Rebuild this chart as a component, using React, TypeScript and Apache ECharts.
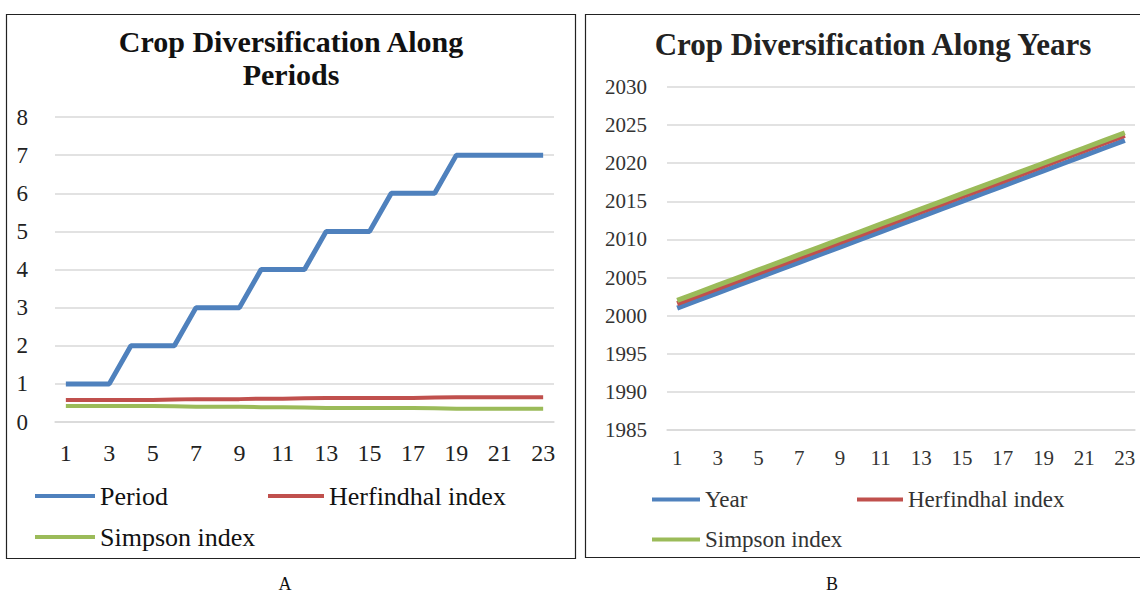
import React, { useEffect, useRef } from "react";
import * as echarts from "echarts";

const categories = ["1","2","3","4","5","6","7","8","9","10","11","12","13","14","15","16","17","18","19","20","21","22","23"];
const periodValues = [1,1,1,2,2,2,3,3,3,4,4,4,5,5,5,6,6,6,7,7,7,7,7];
const herfindahlValues = [0.58,0.58,0.58,0.58,0.58,0.59,0.6,0.6,0.6,0.61,0.61,0.62,0.63,0.63,0.63,0.63,0.63,0.64,0.65,0.65,0.65,0.65,0.65];
const simpsonValues = [0.42,0.42,0.42,0.42,0.42,0.41,0.4,0.4,0.4,0.39,0.39,0.38,0.37,0.37,0.37,0.37,0.37,0.36,0.35,0.35,0.35,0.35,0.35];
const yearValues = [2001,2002,2003,2004,2005,2006,2007,2008,2009,2010,2011,2012,2013,2014,2015,2016,2017,2018,2019,2020,2021,2022,2023];

const titleA = "Crop Diversification Along\nPeriods";
const titleB = "Crop Diversification Along Years";

const SERIF = "'Liberation Serif', 'Times New Roman', serif";
const BLUE = "#4F81BD";
const RED = "#C0504D";
const GREEN = "#9BBB59";
const GRID = "#d9d9d9";

export default function App() {
  const ref = useRef<HTMLDivElement>(null);
  useEffect(() => {
    document.body.style.margin = "0";
    if (!ref.current) return;
    const chart = echarts.init(ref.current, null, { renderer: "svg" });
    const legendBase = {
      icon: "rect",
      itemWidth: 60,
      itemHeight: 4,
      orient: "horizontal",
      padding: 0,
      selectedMode: false,
    };
    const option: any = {
      animation: false,
      backgroundColor: "#fff",
      title: [
        {
          text: titleA,
          left: 291,
          top: 25,
          padding: 0,
          textAlign: "center",
          textStyle: { fontFamily: SERIF, fontSize: 30, fontWeight: "bold", color: "#111", lineHeight: 33 },
        },
        {
          text: titleB,
          left: 873,
          top: 28,
          padding: 0,
          textAlign: "center",
          textStyle: { fontFamily: SERIF, fontSize: 31, fontWeight: "bold", color: "#222", lineHeight: 32 },
        },
        {
          text: "A",
          left: 285,
          top: 575,
          padding: 0,
          textAlign: "center",
          textStyle: { fontFamily: SERIF, fontSize: 18, fontWeight: "normal", color: "#111", lineHeight: 18 },
        },
        {
          text: "B",
          left: 832,
          top: 575,
          padding: 0,
          textAlign: "center",
          textStyle: { fontFamily: SERIF, fontSize: 18, fontWeight: "normal", color: "#111", lineHeight: 18 },
        },
      ],
      legend: [
        { ...legendBase, data: ["Period"], left: 35, top: 483, textStyle: { fontFamily: SERIF, fontSize: 26, color: "#111" } },
        { ...legendBase, itemWidth: 56, data: ["Herfindhal index"], left: 268, top: 483, textStyle: { fontFamily: SERIF, fontSize: 26, color: "#111" } },
        { ...legendBase, data: ["Simpson index"], left: 35, top: 524, textStyle: { fontFamily: SERIF, fontSize: 26, color: "#111" } },
        { ...legendBase, itemWidth: 48, data: ["Year"], left: 652, top: 488, textStyle: { fontFamily: SERIF, fontSize: 23, color: "#333" } },
        { ...legendBase, itemWidth: 46, data: ["Herfindhal index"], left: 857, top: 488, textStyle: { fontFamily: SERIF, fontSize: 23, color: "#333" } },
        { ...legendBase, itemWidth: 48, data: ["Simpson index"], left: 652, top: 528, textStyle: { fontFamily: SERIF, fontSize: 23, color: "#333" } },
      ],
      grid: [
        { left: 55, top: 117, width: 499, height: 305 },
        { left: 667, top: 87, width: 468, height: 343 },
      ],
      xAxis: [
        {
          type: "category",
          gridIndex: 0,
          data: categories,
          boundaryGap: true,
          axisLine: { lineStyle: { color: GRID, width: 1.5 } },
          axisTick: { show: false },
          axisLabel: { interval: 1, margin: 19, fontFamily: SERIF, fontSize: 24, color: "#222" },
        },
        {
          type: "category",
          gridIndex: 1,
          data: categories,
          boundaryGap: true,
          axisLine: { lineStyle: { color: GRID, width: 1.5 } },
          axisTick: { show: false },
          axisLabel: { interval: 1, margin: 17, fontFamily: SERIF, fontSize: 21, color: "#333" },
        },
      ],
      yAxis: [
        {
          type: "value",
          gridIndex: 0,
          min: 0,
          max: 8,
          interval: 1,
          axisLine: { show: false },
          axisTick: { show: false },
          splitLine: { lineStyle: { color: GRID, width: 1.5 } },
          axisLabel: { margin: 27, fontFamily: SERIF, fontSize: 23, color: "#222" },
        },
        {
          type: "value",
          gridIndex: 1,
          min: 1985,
          max: 2030,
          interval: 5,
          axisLine: { show: false },
          axisTick: { show: false },
          splitLine: { lineStyle: { color: GRID, width: 1.5 } },
          axisLabel: { margin: 20, fontFamily: SERIF, fontSize: 21, color: "#333", formatter: (v: number) => String(v) },
        },
      ],
      series: [
        {
          name: "Period", type: "line", xAxisIndex: 0, yAxisIndex: 0, data: periodValues,
          showSymbol: false, color: BLUE, lineStyle: { color: BLUE, width: 5 },
        },
        {
          name: "Herfindhal index", type: "line", xAxisIndex: 0, yAxisIndex: 0, data: herfindahlValues,
          showSymbol: false, color: RED, lineStyle: { color: RED, width: 4 },
        },
        {
          name: "Simpson index", type: "line", xAxisIndex: 0, yAxisIndex: 0, data: simpsonValues,
          showSymbol: false, color: GREEN, lineStyle: { color: GREEN, width: 4 },
        },
        {
          name: "Year", type: "line", xAxisIndex: 1, yAxisIndex: 1, data: yearValues, stack: "b",
          showSymbol: false, color: BLUE, lineStyle: { color: BLUE, width: 5 },
        },
        {
          name: "Herfindhal index", type: "line", xAxisIndex: 1, yAxisIndex: 1, data: herfindahlValues, stack: "b",
          showSymbol: false, color: RED, lineStyle: { color: RED, width: 5 },
        },
        {
          name: "Simpson index", type: "line", xAxisIndex: 1, yAxisIndex: 1, data: simpsonValues, stack: "b",
          showSymbol: false, color: GREEN, lineStyle: { color: GREEN, width: 5 },
        },
      ],
      graphic: [
        { type: "rect", shape: { x: 6.5, y: 14.5, width: 569, height: 544 }, style: { fill: "none", stroke: "#222", lineWidth: 1.2 }, silent: true, z: -1 },
        { type: "rect", shape: { x: 585.5, y: 14.5, width: 570, height: 543 }, style: { fill: "none", stroke: "#222", lineWidth: 1.2 }, silent: true, z: -1 },
      ],
    };
    chart.setOption(option);
    return () => chart.dispose();
  }, []);
  return <div ref={ref} style={{ width: 1140, height: 594 }} />;
}
